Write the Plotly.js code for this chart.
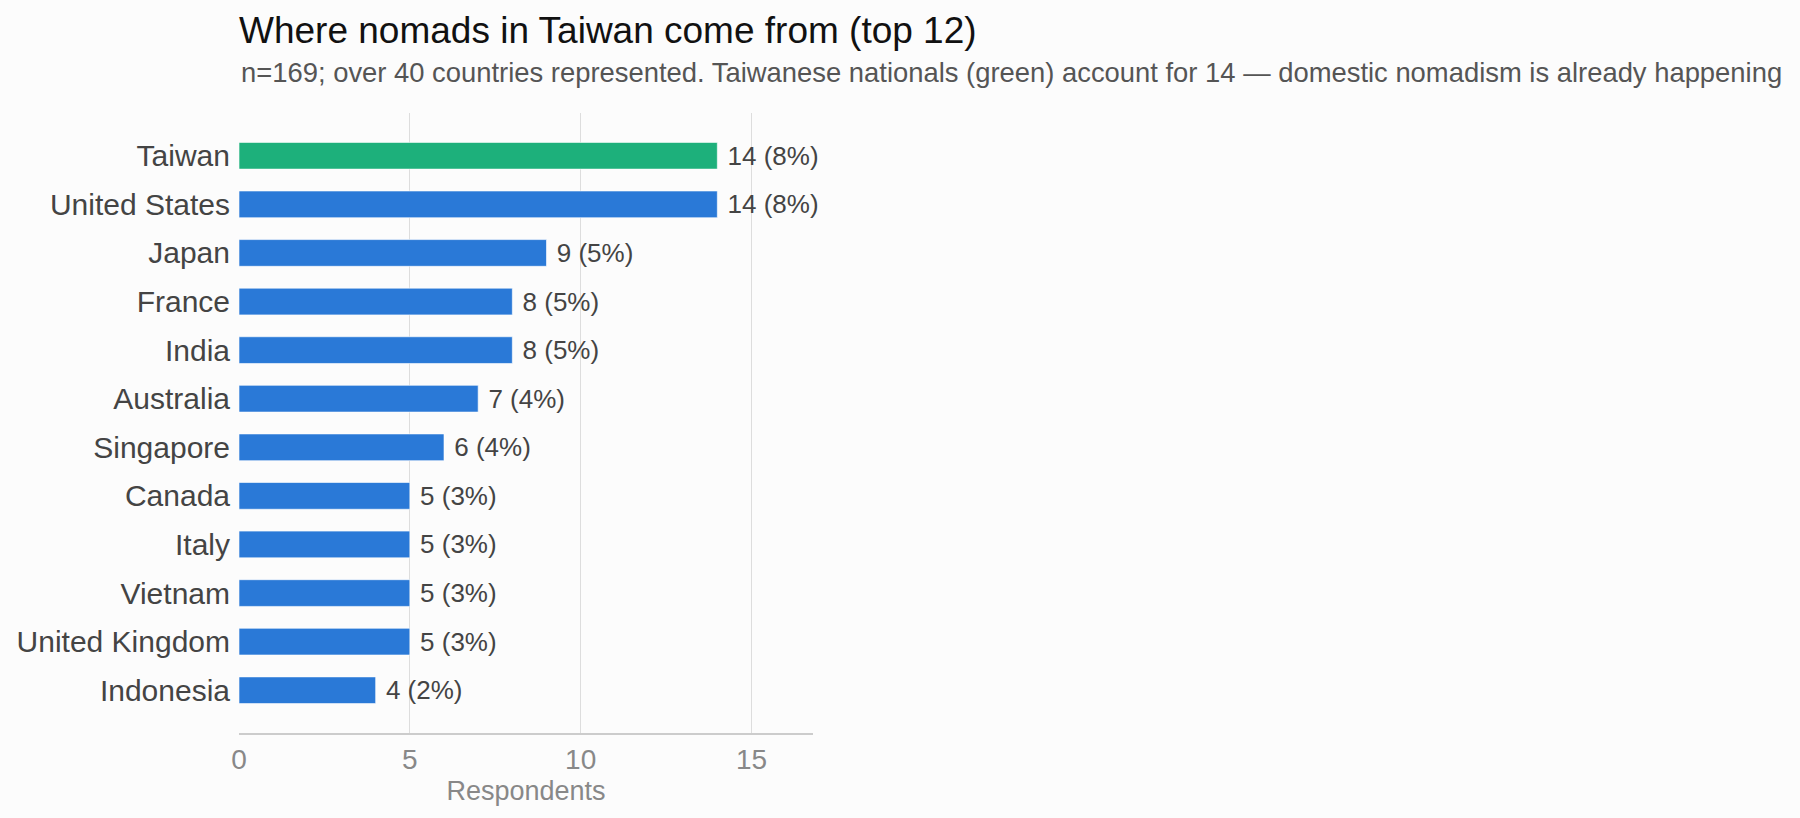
<!DOCTYPE html>
<html>
<head>
<meta charset="utf-8">
<script src="https://cdn.plot.ly/plotly-3.0.1.min.js"></script>
<style>
  html, body { margin: 0; padding: 0; background: #fcfcfc; }
  #chart { width: 1800px; height: 818px; }
</style>
</head>
<body>
<div id="chart"></div>
<script>
// top 12 countries of origin, n = 169 respondents
var countries = ['Taiwan', 'United States', 'Japan', 'France', 'India', 'Australia',
  'Singapore', 'Canada', 'Italy', 'Vietnam', 'United Kingdom', 'Indonesia'];
var respondents = [14, 14, 9, 8, 8, 7, 6, 5, 5, 5, 5, 4];
var total_n = 169;
var x_tickvals = [0, 5, 10, 15];

var green = '#1db07b';
var blue = '#2a79d7';

var bar_colours = countries.map(function (c) {
  return c === 'Taiwan' ? green : blue;
});

// labels like "14 (8%)"
var value_labels = respondents.map(function (v) {
  return '\u00a0' + v + ' (' + Math.round(v / total_n * 100) + '%)';
});

var font_family = '"Liberation Sans", Arial, Helvetica, sans-serif';

var bars = {
  type: 'bar',
  orientation: 'h',
  x: respondents,
  y: countries,
  width: 0.55,
  marker: {
    color: bar_colours,
    line: { color: 'rgba(255, 255, 255, 0.6)', width: 1 }
  },
  text: value_labels,
  textposition: 'outside',
  constraintext: 'none',
  cliponaxis: false,
  textfont: { family: font_family, size: 26, color: '#444' },
  hoverinfo: 'skip'
};

var layout = {
  width: 1800,
  height: 818,
  paper_bgcolor: '#fcfcfc',
  plot_bgcolor: '#fcfcfc',
  margin: { l: 239, r: 987, t: 113, b: 85 },
  showlegend: false,
  font: { family: font_family },
  title: {
    text: 'Where nomads in Taiwan come from (top 12)',
    font: { family: font_family, size: 37, color: '#111' },
    xref: 'paper',
    x: 0,
    xanchor: 'left',
    yref: 'container',
    y: 0.963,
    yanchor: 'middle'
  },
  annotations: [{
    text: 'n=169; over 40 countries represented. Taiwanese nationals (green) account for 14 \u2014 domestic nomadism is already happening',
    xref: 'paper',
    yref: 'paper',
    x: 0,
    y: 1.066,
    xanchor: 'left',
    yanchor: 'middle',
    showarrow: false,
    font: { family: font_family, size: 27.4, color: '#555' }
  }],
  xaxis: {
    range: [0, 16.8],
    tickvals: x_tickvals,
    showgrid: true,
    gridcolor: '#dddddd',
    gridwidth: 1,
    zeroline: false,
    showline: true,
    linecolor: '#cccccc',
    linewidth: 2,
    ticks: '',
    tickfont: { family: font_family, size: 28, color: '#888' },
    title: {
      text: 'Respondents',
      font: { family: font_family, size: 27, color: '#888' },
      standoff: 8
    },
    fixedrange: true
  },
  yaxis: {
    type: 'category',
    range: [11.88, -0.88],
    showgrid: false,
    zeroline: false,
    showline: false,
    ticks: '',
    ticklabelstandoff: 8,
    tickfont: { family: font_family, size: 30, color: '#444' },
    fixedrange: true
  }
};

var config = { displayModeBar: false, responsive: false };

Plotly.newPlot('chart', [bars], layout, config);
</script>
</body>
</html>
